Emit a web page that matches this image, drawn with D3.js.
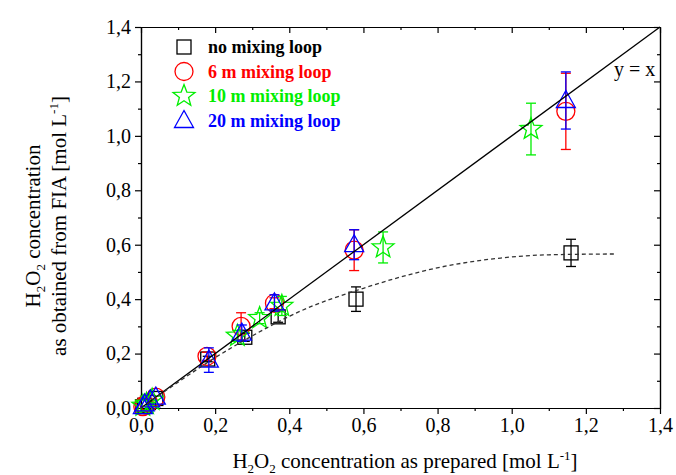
<!DOCTYPE html>
<html>
<head>
<meta charset="utf-8">
<script src="https://cdn.jsdelivr.net/npm/d3@7"></script>
<style>
  body { margin: 0; background: #fff; }
  text { font-family: "Liberation Serif", "Times New Roman", serif; }
</style>
</head>
<body>
<div id="chart"></div>
<script>
// data
var noLoopX = [0.005, 0.01, 0.02, 0.04, 0.18, 0.28, 0.37, 0.58, 1.16];
var noLoopY = [0.005, 0.01, 0.02, 0.035, 0.18, 0.26, 0.335, 0.40, 0.57];
var noLoopErr = [0, 0, 0, 0, 0.01, 0.015, 0.02, 0.045, 0.05];

var loop6X = [0.005, 0.01, 0.02, 0.04, 0.178, 0.27, 0.36, 0.575, 1.146];
var loop6Y = [0.005, 0.012, 0.02, 0.04, 0.19, 0.30, 0.385, 0.58, 1.09];
var loop6Err = [0, 0, 0, 0, 0.015, 0.05, 0.02, 0.075, 0.14];

var loop10X = [0.005, 0.015, 0.03, 0.26, 0.32, 0.38, 0.653, 1.052];
var loop10Y = [0.008, 0.015, 0.03, 0.265, 0.33, 0.375, 0.59, 1.025];
var loop10Err = [0, 0, 0, 0.02, 0.02, 0.035, 0.057, 0.095];

var loop20X = [0.005, 0.01, 0.025, 0.04, 0.183, 0.272, 0.36, 0.575, 1.146];
var loop20Y = [0.005, 0.015, 0.03, 0.04, 0.176, 0.275, 0.386, 0.60, 1.13];
var loop20Err = [0, 0, 0, 0, 0.045, 0.03, 0.03, 0.055, 0.105];

// dashed trend curve for "no mixing loop"
var fitX = [0, 0.1, 0.2, 0.3, 0.43, 0.6, 0.81, 0.97, 1.1, 1.28];
var fitY = [0, 0.095, 0.185, 0.265, 0.356, 0.44, 0.518, 0.551, 0.563, 0.566];

var tickValues = [0, 0.2, 0.4, 0.6, 0.8, 1.0, 1.2, 1.4];
var minorValues = [0.1, 0.3, 0.5, 0.7, 0.9, 1.1, 1.3];

var seriesNames = ["no mixing loop", "6 m mixing loop", "10 m mixing loop", "20 m mixing loop"];
var seriesColors = ["#000000", "#ff0000", "#00ee00", "#0000ff"];

var width = 676, height = 475;
var plotLeft = 141, plotRight = 660, plotTop = 27, plotBottom = 408;

var svg = d3.select("#chart").append("svg")
    .attr("width", width)
    .attr("height", height);

var x = d3.scaleLinear().domain([0, 1.4]).range([plotLeft, plotRight]);
var y = d3.scaleLinear().domain([0, 1.4]).range([plotBottom, plotTop]);

var fmt = function (d) { return d3.format(".1f")(d).replace(".", ","); };

// major + minor ticks; negative sizes point inward (top/right mirrors)
function drawAxis(makeAxis, scale, transform, dir, labels) {
    var gMinor = svg.append("g").attr("transform", transform)
        .call(makeAxis(scale).tickValues(minorValues).tickSize(3 * dir).tickSizeOuter(0).tickFormat(""));
    var gMajor = svg.append("g").attr("transform", transform)
        .call(makeAxis(scale).tickValues(tickValues).tickSize(6 * dir).tickSizeOuter(0)
            .tickPadding(4).tickFormat(labels ? fmt : ""));
    [gMinor, gMajor].forEach(function (s) {
        s.selectAll(".domain").attr("stroke", "#000").attr("stroke-width", 1.2);
        s.selectAll("line").attr("stroke", "#000").attr("stroke-width", 1.2);
        s.selectAll("text").attr("font-size", 20).attr("fill", "#000")
            .style("font-family", "Liberation Serif");
    });
    return gMajor;
}
drawAxis(d3.axisBottom, x, "translate(0," + plotBottom + ")", 1, true);
drawAxis(d3.axisLeft, y, "translate(" + plotLeft + ",0)", 1, true);
drawAxis(d3.axisTop, x, "translate(0," + plotTop + ")", -1, false);
drawAxis(d3.axisRight, y, "translate(" + plotRight + ",0)", -1, false);

// series
var series = [
    { xs: noLoopX, ys: noLoopY, es: noLoopErr, shape: "square" },
    { xs: loop6X, ys: loop6Y, es: loop6Err, shape: "circle" },
    { xs: loop10X, ys: loop10Y, es: loop10Err, shape: "star" },
    { xs: loop20X, ys: loop20Y, es: loop20Err, shape: "triangle" }
];

function starPath(R) {
    var pts = [];
    for (var i = 0; i < 10; i++) {
        var r = i % 2 === 0 ? R : R * 0.42;
        var a = -Math.PI / 2 + i * Math.PI / 5;
        pts.push([r * Math.cos(a), r * Math.sin(a)]);
    }
    return "M" + pts.map(function (p) { return p[0].toFixed(2) + "," + p[1].toFixed(2); }).join("L") + "Z";
}

function drawShape(g, shape, color) {
    if (shape === "square") {
        g.append("rect").attr("x", -7).attr("y", -7).attr("width", 14).attr("height", 14);
    } else if (shape === "circle") {
        g.append("circle").attr("r", 9);
    } else if (shape === "star") {
        g.append("path").attr("d", starPath(11.5));
    } else {
        g.append("path").attr("d", "M0,-10L9.5,7L-9.5,7Z");
    }
    g.selectAll("*").attr("fill", "none").attr("stroke", color).attr("stroke-width", 1.3);
}

series.forEach(function (s, si) {
    var color = seriesColors[si];
    var pts = s.xs.map(function (v, i) { return { x: v, y: s.ys[i], e: s.es[i] }; });
    var eg = svg.append("g").attr("stroke", color).attr("stroke-width", 1.3);
    pts.filter(function (d) { return d.e > 0; }).forEach(function (d) {
        var cx = x(d.x);
        eg.append("line").attr("x1", cx).attr("x2", cx).attr("y1", y(d.y + d.e)).attr("y2", y(d.y - d.e));
        eg.append("line").attr("x1", cx - 5).attr("x2", cx + 5).attr("y1", y(d.y + d.e)).attr("y2", y(d.y + d.e));
        eg.append("line").attr("x1", cx - 5).attr("x2", cx + 5).attr("y1", y(d.y - d.e)).attr("y2", y(d.y - d.e));
    });
    pts.forEach(function (d) {
        var g = svg.append("g").attr("transform", "translate(" + x(d.x) + "," + y(d.y) + ")");
        drawShape(g, s.shape, color);
    });
});

// y = x line
svg.append("path")
    .datum([0, 1.4])
    .attr("d", d3.line().x(function (d) { return x(d); }).y(function (d) { return y(d); }))
    .attr("fill", "none").attr("stroke", "#000").attr("stroke-width", 1.3);

// dashed fit
svg.append("path")
    .datum(fitX.map(function (v, i) { return [v, fitY[i]]; }))
    .attr("d", d3.line().curve(d3.curveMonotoneX)
        .x(function (d) { return x(d[0]); }).y(function (d) { return y(d[1]); }))
    .attr("fill", "none").attr("stroke", "#333").attr("stroke-width", 1.3)
    .attr("stroke-dasharray", "4,3");

svg.append("text").attr("x", 614).attr("y", 76).attr("font-size", 20).text("y = x");

// legend
var legend = svg.append("g");
seriesNames.forEach(function (name, i) {
    var ly = 47 + i * 24.5;
    var g = legend.append("g").attr("transform", "translate(184," + ly + ")");
    drawShape(g, series[i].shape, seriesColors[i]);
    legend.append("text").attr("x", 208).attr("y", ly + 6)
        .attr("font-size", 18).attr("font-weight", "bold")
        .attr("fill", seriesColors[i]).text(name);
});

// axis titles
var xt = svg.append("text").attr("x", 405).attr("y", 468)
    .attr("text-anchor", "middle").attr("font-size", 21);
xt.append("tspan").text("H");
xt.append("tspan").attr("font-size", 13).attr("dy", 5).text("2");
xt.append("tspan").attr("dy", -5).text("O");
xt.append("tspan").attr("font-size", 13).attr("dy", 5).text("2");
xt.append("tspan").attr("dy", -5).text(" concentration as prepared [mol L");
xt.append("tspan").attr("font-size", 13).attr("dy", -8).text("-1");
xt.append("tspan").attr("dy", 8).text("]");

var yg = svg.append("g").attr("transform", "translate(0,226) rotate(-90)");
var yt1 = yg.append("text").attr("x", 0).attr("y", 40)
    .attr("text-anchor", "middle").attr("font-size", 21);
yt1.append("tspan").text("H");
yt1.append("tspan").attr("font-size", 13).attr("dy", 5).text("2");
yt1.append("tspan").attr("dy", -5).text("O");
yt1.append("tspan").attr("font-size", 13).attr("dy", 5).text("2");
yt1.append("tspan").attr("dy", -5).text(" concentration");
var yt2 = yg.append("text").attr("x", 0).attr("y", 66)
    .attr("text-anchor", "middle").attr("font-size", 21);
yt2.append("tspan").text("as obtained from FIA [mol L");
yt2.append("tspan").attr("font-size", 13).attr("dy", -8).text("-1");
yt2.append("tspan").attr("dy", 8).text("]");
</script>
</body>
</html>
